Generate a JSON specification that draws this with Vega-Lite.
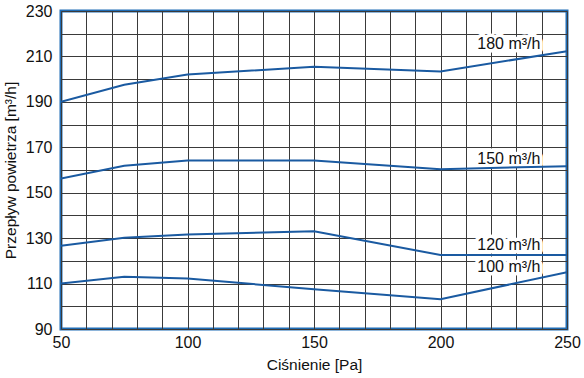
{
  "$schema": "https://vega.github.io/schema/vega-lite/v6.json",
  "autosize": {"type": "none"},
  "padding": {"left": 61, "top": 11, "right": 17, "bottom": 49},
  "width": 506,
  "height": 318,
  "background": "white",
  "config": {
    "view": {"stroke": "#1f6cb5", "strokeWidth": 3},
    "font": "Liberation Sans",
    "axis": {"labelFont": "Liberation Sans", "titleFont": "Liberation Sans", "labelColor": "#111", "titleColor": "#111", "titleFontWeight": "normal"}
  },
  "datasets": {
    "curves": [
      {"series": "180", "p": 50, "q": 190.0},
      {"series": "180", "p": 75, "q": 197.5},
      {"series": "180", "p": 100, "q": 202.0},
      {"series": "180", "p": 150, "q": 205.5},
      {"series": "180", "p": 200, "q": 203.4},
      {"series": "180", "p": 250, "q": 212.3},
      {"series": "150", "p": 50, "q": 156.3},
      {"series": "150", "p": 75, "q": 161.9},
      {"series": "150", "p": 100, "q": 164.2},
      {"series": "150", "p": 150, "q": 164.2},
      {"series": "150", "p": 200, "q": 160.3},
      {"series": "150", "p": 250, "q": 161.7},
      {"series": "120", "p": 50, "q": 126.7},
      {"series": "120", "p": 75, "q": 130.2},
      {"series": "120", "p": 100, "q": 131.6},
      {"series": "120", "p": 150, "q": 133.0},
      {"series": "120", "p": 200, "q": 122.6},
      {"series": "120", "p": 250, "q": 122.6},
      {"series": "100", "p": 50, "q": 110.0},
      {"series": "100", "p": 75, "q": 113.0},
      {"series": "100", "p": 100, "q": 112.2},
      {"series": "100", "p": 150, "q": 107.5},
      {"series": "100", "p": 200, "q": 103.1},
      {"series": "100", "p": 250, "q": 115.0}
    ],
    "labels": [
      {"text": "180 m³/h", "p": 227, "q": 215.3},
      {"text": "150 m³/h", "p": 227, "q": 164.9},
      {"text": "120 m³/h", "p": 227, "q": 127.1},
      {"text": "100 m³/h", "p": 227, "q": 117.1}
    ]
  },
  "layer": [
    {
      "data": {"name": "labels"},
      "mark": {"type": "text", "fontSize": 16, "color": "white", "stroke": "white", "strokeWidth": 7, "strokeJoin": "round", "align": "center", "baseline": "middle", "font": "Liberation Sans"},
      "encoding": {
        "x": {"field": "p", "type": "quantitative"},
        "y": {"field": "q", "type": "quantitative"},
        "text": {"field": "text"}
      }
    },
    {
      "data": {"name": "curves"},
      "mark": {"type": "line", "color": "#1a5aa1", "strokeWidth": 2, "clip": true},
      "encoding": {
        "x": {
          "field": "p", "type": "quantitative",
          "scale": {"domain": [50, 250], "nice": false, "zero": false},
          "axis": {
            "title": "Ciśnienie [Pa]",
            "values": [50, 60, 70, 80, 90, 100, 110, 120, 130, 140, 150, 160, 170, 180, 190, 200, 210, 220, 230, 240, 250],
            "tickCount": 40,
            "labelExpr": "datum.value % 50 === 0 ? datum.label : ''",
            "labelOverlap": false,
            "labelBound": false,
            "labelFlush": false,
            "labelFontSize": 16,
            "labelPadding": 5,
            "ticks": false,
            "domain": false,
            "grid": true,
            "gridColor": "#3a3a3a",
            "gridOpacity": 1,
            "gridWidth": 1,
            "titleFontSize": 15.5,
            "titlePadding": 7
          }
        },
        "y": {
          "field": "q", "type": "quantitative",
          "scale": {"domain": [90, 230], "nice": false, "zero": false},
          "axis": {
            "title": "Przepływ powietrza [m³/h]",
            "values": [90, 100, 110, 120, 130, 140, 150, 160, 170, 180, 190, 200, 210, 220, 230],
            "tickCount": 40,
            "labelExpr": "(datum.value - 90) % 20 === 0 ? datum.label : ''",
            "labelOverlap": false,
            "labelBound": false,
            "labelFlush": false,
            "labelFontSize": 16,
            "labelPadding": 9,
            "ticks": false,
            "domain": false,
            "grid": true,
            "gridColor": "#3a3a3a",
            "gridOpacity": 1,
            "gridWidth": 1,
            "titleFontSize": 15.5,
            "titlePadding": 7
          }
        },
        "detail": {"field": "series"}
      }
    },
    {
      "data": {"name": "labels"},
      "mark": {"type": "text", "fontSize": 16, "color": "#111", "align": "center", "baseline": "middle", "font": "Liberation Sans"},
      "encoding": {
        "x": {"field": "p", "type": "quantitative"},
        "y": {"field": "q", "type": "quantitative"},
        "text": {"field": "text"}
      }
    }
  ]
}
